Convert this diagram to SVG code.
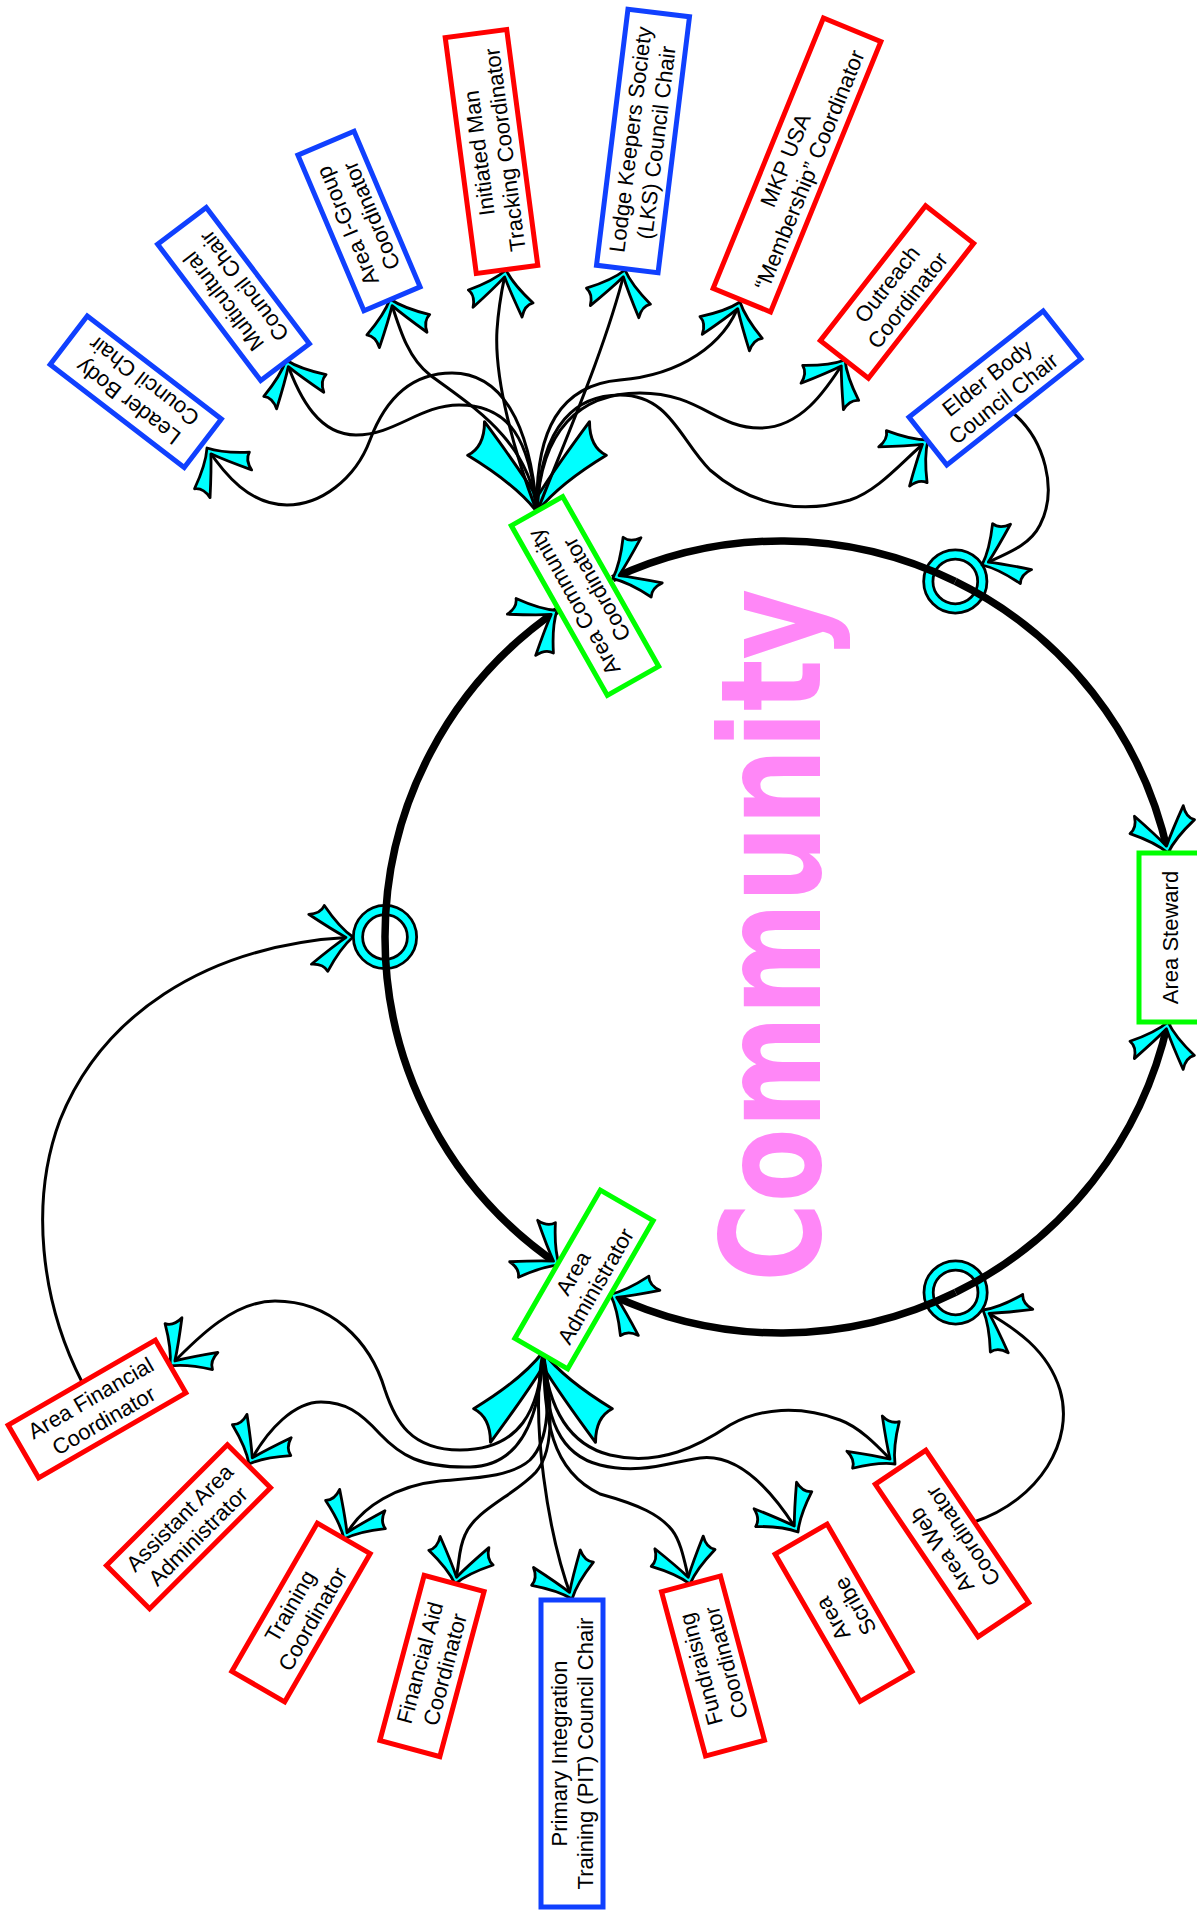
<svg xmlns="http://www.w3.org/2000/svg" width="1197" height="1921" viewBox="0 0 1197 1921">
<defs>
<style>
.box{fill:#fff;stroke-width:5}
.red{stroke:#ff0000}
.blue{stroke:#1040ff}
.green{stroke:#00ff00}
.lbl{font-family:"Liberation Sans",Arial,sans-serif;font-size:22px;text-anchor:middle;fill:#000}
.con{fill:none;stroke:#000;stroke-width:3;marker-end:url(#ah)}
.arc{fill:none;stroke:#000;stroke-width:7.5;marker-end:url(#ah)}
.ahp{fill:#00ffff;stroke:#000;stroke-width:2.8;stroke-linejoin:round}
.ring1{fill:none;stroke:#000;stroke-width:12}
.ring2{fill:none;stroke:#00ffff;stroke-width:6.5}
.comm{font-family:"DejaVu Sans",sans-serif;font-weight:bold;font-size:139px;fill:#ff87f7}
</style>
<path id="arrowShape" d="M0,0 Q-13,-10 -27,-33 Q-31,-25 -43,-25 Q-20,-8 -7,0 Q-20,8 -43,25 Q-31,25 -27,33 Q-13,10 0,0 Z"/>
<marker id="ah" markerUnits="userSpaceOnUse" orient="auto" viewBox="-50 -40 60 80" markerWidth="60" markerHeight="80" refX="0" refY="0">
<use href="#arrowShape" class="ahp"/>
</marker>
</defs>
<rect width="1197" height="1921" fill="#fff"/>

<text class="comm" transform="translate(820,1282) rotate(-90)" textLength="693" lengthAdjust="spacingAndGlyphs">Community</text>

<g id="connectors">
<g id="rings">
<circle class="ring1" cx="955.3" cy="581.4" r="27"/><circle class="ring2" cx="955.3" cy="581.4" r="27"/>
<circle class="ring1" cx="955.6" cy="1292.4" r="27"/><circle class="ring2" cx="955.6" cy="1292.4" r="27"/>
<circle class="ring1" cx="385" cy="937" r="27"/><circle class="ring2" cx="385" cy="937" r="27"/>
</g>
<path class="arc" d="M955.3,581.4 A396,396 0 0 0 612.7,578.6"/>
<path class="arc" d="M955.3,581.4 A396,396 0 0 1 1168,853"/>
<path class="arc" d="M955.6,1292.4 A396,396 0 0 0 1168,1022"/>
<path class="arc" d="M955.6,1292.4 A396,396 0 0 1 610.3,1294.3"/>
<path class="arc" d="M385,937 A396,396 0 0 1 557,610.5"/>
<path class="arc" d="M385,937 A396,396 0 0 0 559.3,1265.1"/>

<use href="#arrowShape" transform="translate(537,512) rotate(90) scale(2.1)" style="fill:#00ffff;stroke:#000;stroke-width:1.4;stroke-linejoin:round"/>
<use href="#arrowShape" transform="translate(543,1352) rotate(-90) scale(2.1)" style="fill:#00ffff;stroke:#000;stroke-width:1.4;stroke-linejoin:round"/>

<path class="con" d="M537,512 C530,420 500,373 452,373 C410,373 385,400 370,440 C355,480 320,505 287,505 C250,505 225,475 207,448"/>
<path class="con" d="M537,512 C530,440 510,405 459,405 C420,405 395,435 356,435 C320,435 300,400 286,360"/>
<path class="con" d="M537,512 C530,440 470,405 430,375 C408,358 400,330 390,299"/>
<path class="con" d="M537,512 C515,455 494,380 497,330 C499,300 503,285 506,270"/>
<path class="con" d="M537,512 C565,440 605,350 625,270"/>
<path class="con" d="M537,512 C535,430 560,385 620,380 C680,375 725,345 740,302"/>
<path class="con" d="M537,512 C540,430 580,393 640,393 C700,393 715,428 760,428 C800,428 825,392 845,360"/>
<path class="con" d="M537,512 C540,420 580,395 620,395 C670,395 680,440 710,470 C750,505 800,515 850,500 C880,490 905,458 928,440"/>
<path class="con" d="M1013,413 C1045,440 1058,490 1040,525 C1030,545 1010,552 982,565"/>

<path class="con" d="M543,1352 C540,1410 520,1450 460,1450 C410,1450 395,1420 385,1390 C370,1340 330,1301 275,1301 C235,1301 200,1335 170,1366"/>
<path class="con" d="M543,1352 C540,1420 520,1466 470,1467 C420,1468 400,1455 380,1434 C360,1412 345,1402 321,1402 C295,1402 268,1428 249,1464"/>
<path class="con" d="M543,1352 C550,1400 550,1440 530,1460 C510,1478 470,1478 440,1481 C400,1485 360,1505 344,1539"/>
<path class="con" d="M543,1352 C552,1400 555,1450 536,1472 C515,1495 475,1510 465,1535 C458,1550 460,1562 455,1584"/>
<path class="con" d="M543,1352 C530,1420 548,1535 572,1599"/>
<path class="con" d="M543,1352 C545,1420 550,1470 600,1494 C640,1505 660,1515 672,1530 C682,1543 685,1565 690,1584"/>
<path class="con" d="M543,1352 C545,1420 560,1455 600,1465 C640,1475 670,1462 700,1458 C740,1453 775,1495 798,1532"/>
<path class="con" d="M543,1352 C548,1410 570,1445 610,1455 C660,1467 700,1445 730,1425 C760,1408 800,1405 840,1420 C862,1428 882,1451 895,1464"/>
<path class="con" d="M82,1382 C40,1300 30,1200 60,1120 C100,1020 200,945 353,937"/>
<path class="con" d="M974,1522 C1040,1500 1075,1440 1060,1390 C1048,1350 1015,1328 983,1310"/>
</g>

<g id="n-leader-body" transform="translate(135.75,391.75) rotate(-142.5)">
<rect class="box blue" x="-84.5" y="-30.5" width="169" height="61"/>
<text class="lbl"><tspan x="0" y="-5">Leader Body</tspan><tspan x="0" y="21">Council Chair</tspan></text>
</g>
<g id="n-multicultural" transform="translate(233.5,294) rotate(-127.1)">
<rect class="box blue" x="-85.5" y="-30.5" width="171" height="61"/>
<text class="lbl"><tspan x="0" y="-5">Multicultural</tspan><tspan x="0" y="21">Council Chair</tspan></text>
</g>
<g id="n-igroup" transform="translate(359,221) rotate(-113)">
<rect class="box blue" x="-84.5" y="-30.5" width="169" height="61"/>
<text class="lbl"><tspan x="0" y="-5">Area I-Group</tspan><tspan x="0" y="21">Coordinator</tspan></text>
</g>
<g id="n-initiated" transform="translate(491.5,151.5) rotate(-97.5)">
<rect class="box red" x="-119" y="-31" width="238" height="62"/>
<text class="lbl"><tspan x="0" y="-5">Initiated Man</tspan><tspan x="0" y="21">Tracking Coordinator</tspan></text>
</g>
<g id="n-lks" transform="translate(643,141) rotate(-83)">
<rect class="box blue" x="-129" y="-31" width="258" height="62"/>
<text class="lbl"><tspan x="0" y="-5">Lodge Keepers Society</tspan><tspan x="0" y="21">(LKS) Council Chair</tspan></text>
</g>
<g id="n-mkp" transform="translate(797,165) rotate(-67.8)">
<rect class="box red" x="-146" y="-31" width="292" height="62"/>
<text class="lbl"><tspan x="0" y="-5">MKP USA</tspan><tspan x="0" y="21">“Membership” Coordinator</tspan></text>
</g>
<g id="n-outreach" transform="translate(897,292) rotate(-52)">
<rect class="box red" x="-85.5" y="-30.5" width="171" height="61"/>
<text class="lbl"><tspan x="0" y="-5">Outreach</tspan><tspan x="0" y="21">Coordinator</tspan></text>
</g>
<g id="n-elder" transform="translate(995,388) rotate(-38.3)">
<rect class="box blue" x="-85.5" y="-30.5" width="171" height="61"/>
<text class="lbl"><tspan x="0" y="-5">Elder Body</tspan><tspan x="0" y="21">Council Chair</tspan></text>
</g>
<g id="n-acc" transform="translate(585,596) rotate(-119.5)">
<rect class="box green" x="-97.5" y="-29.5" width="195" height="59"/>
<text class="lbl"><tspan x="0" y="-5">Area Community</tspan><tspan x="0" y="21">Coordinator</tspan></text>
</g>
<g id="n-steward" transform="translate(1169.5,937.5) rotate(-90)">
<rect class="box green" x="-84.5" y="-30.5" width="169" height="61"/>
<text class="lbl" x="0" y="8">Area Steward</text>
</g>
<g id="n-admin" transform="translate(584,1279.5) rotate(-60)">
<rect class="box green" x="-85.5" y="-30.5" width="171" height="61"/>
<text class="lbl"><tspan x="0" y="-5">Area</tspan><tspan x="0" y="21">Administrator</tspan></text>
</g>
<g id="n-afc" transform="translate(97,1409) rotate(-30)">
<rect class="box red" x="-85" y="-30.5" width="170" height="61"/>
<text class="lbl"><tspan x="0" y="-5">Area Financial</tspan><tspan x="0" y="21">Coordinator</tspan></text>
</g>
<g id="n-asst" transform="translate(188.5,1526.7) rotate(-45)">
<rect class="box red" x="-85.5" y="-30.5" width="171" height="61"/>
<text class="lbl"><tspan x="0" y="-5">Assistant Area</tspan><tspan x="0" y="21">Administrator</tspan></text>
</g>
<g id="n-training" transform="translate(301,1612.5) rotate(-60)">
<rect class="box red" x="-85.5" y="-30.5" width="171" height="61"/>
<text class="lbl"><tspan x="0" y="-5">Training</tspan><tspan x="0" y="21">Coordinator</tspan></text>
</g>
<g id="n-finaid" transform="translate(432,1666) rotate(-75)">
<rect class="box red" x="-85.5" y="-31" width="171" height="62"/>
<text class="lbl"><tspan x="0" y="-5">Financial Aid</tspan><tspan x="0" y="21">Coordinator</tspan></text>
</g>
<g id="n-pit" transform="translate(572,1753.5) rotate(-90)">
<rect class="box blue" x="-153.5" y="-31" width="307" height="62"/>
<text class="lbl"><tspan x="0" y="-5">Primary Integration</tspan><tspan x="0" y="21">Training (PIT) Council Chair</tspan></text>
</g>
<g id="n-fund" transform="translate(713,1666) rotate(-105)">
<rect class="box red" x="-85" y="-30.5" width="170" height="61"/>
<text class="lbl"><tspan x="0" y="-5">Fundraising</tspan><tspan x="0" y="21">Coordinator</tspan></text>
</g>
<g id="n-scribe" transform="translate(843.6,1612.7) rotate(-120)">
<rect class="box red" x="-85" y="-30" width="170" height="60"/>
<text class="lbl"><tspan x="0" y="-5">Area</tspan><tspan x="0" y="21">Scribe</tspan></text>
</g>
<g id="n-web" transform="translate(952,1543.5) rotate(-124)">
<rect class="box red" x="-92" y="-30.5" width="184" height="61"/>
<text class="lbl"><tspan x="0" y="-5">Area Web</tspan><tspan x="0" y="21">Coordinator</tspan></text>
</g>
</svg>
